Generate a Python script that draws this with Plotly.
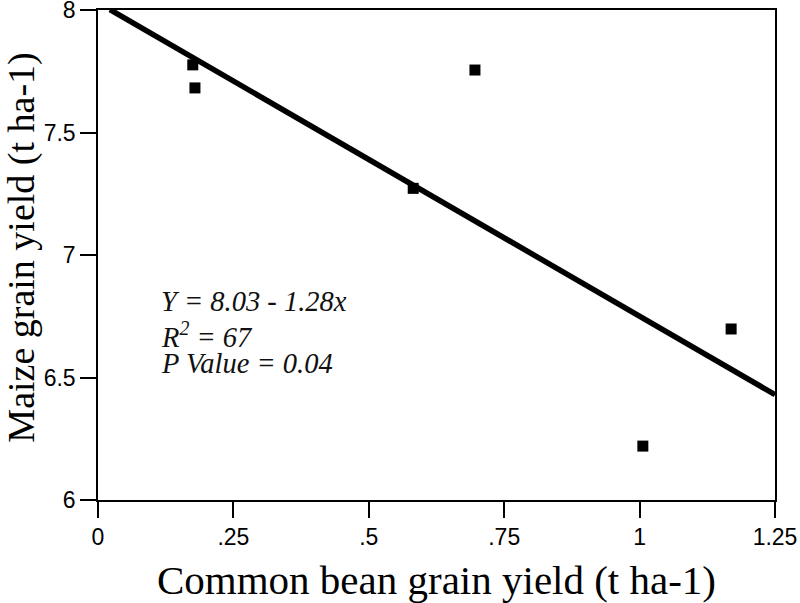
import plotly.graph_objects as go

# Observed data
bean_yield = [0.175, 0.179, 0.582, 0.696, 1.006, 1.169]
maize_yield = [7.776, 7.682, 7.272, 7.755, 6.22, 6.698]

# Regression: Y = 8.03 - 1.28x
intercept = 8.03
slope = -1.28
fit_x = [0.022, 1.25]
fit_y = [intercept + slope * v for v in fit_x]

x_tickvals = [0, 0.25, 0.5, 0.75, 1, 1.25]
x_ticktext = ["0", ".25", ".5", ".75", "1", "1.25"]
y_tickvals = [6, 6.5, 7, 7.5, 8]
y_ticktext = ["6", "6.5", "7", "7.5", "8"]

stats_lines = ["Y = 8.03 - 1.28x", "R<sup>2</sup> = 67", "P Value = 0.04"]

fig = go.Figure()
fig.add_trace(go.Scatter(x=fit_x, y=fit_y, mode="lines",
                         line=dict(color="black", width=5.5), showlegend=False,
                         cliponaxis=False))
fig.add_trace(go.Scatter(x=bean_yield, y=maize_yield, mode="markers",
                         marker=dict(symbol="square", size=11, color="black"),
                         showlegend=False, cliponaxis=False))

for txt, yp in zip(stats_lines, [0.405, 0.337, 0.278]):
    fig.add_annotation(x=0.09, y=yp, xref="paper", yref="paper",
                       xanchor="left", yanchor="middle", align="left", showarrow=False,
                       text="<i>" + txt + "</i>",
                       font=dict(family="Liberation Serif", size=28.5, color="#111"))

# Y axis title (slightly above the plot centre, as in the reference)
fig.add_annotation(x=-0.113, y=0.516, xref="paper", yref="paper",
                   xanchor="center", yanchor="middle", textangle=-90, showarrow=False,
                   text="Maize grain yield (t ha-1)",
                   font=dict(family="Liberation Serif", size=38, color="black"))

axis_common = dict(showline=True, linecolor="black", linewidth=1.5, mirror=True,
                   ticks="outside", ticklen=16, tickwidth=1.5, tickcolor="black",
                   showgrid=False, zeroline=False, automargin=False,
                   ticklabeloverflow="allow",
                   tickfont=dict(family="Liberation Sans", size=23, color="black"))

fig.update_xaxes(range=[0, 1.25], tickvals=x_tickvals, ticktext=x_ticktext,
                 title=dict(text="Common bean grain yield (t ha-1)",
                            font=dict(family="Liberation Serif", size=41, color="black"),
                            standoff=16),
                 **axis_common)
fig.update_yaxes(range=[6, 8], tickvals=y_tickvals, ticktext=y_ticktext,
                 **axis_common)

fig.update_layout(width=800, height=603, margin=dict(l=98, r=25, t=10, b=103),
                  plot_bgcolor="white", paper_bgcolor="white")

fig.write_html("out.html", config={"displayModeBar": False},
               post_script="document.body.style.margin='0';document.body.style.overflow='hidden';")
